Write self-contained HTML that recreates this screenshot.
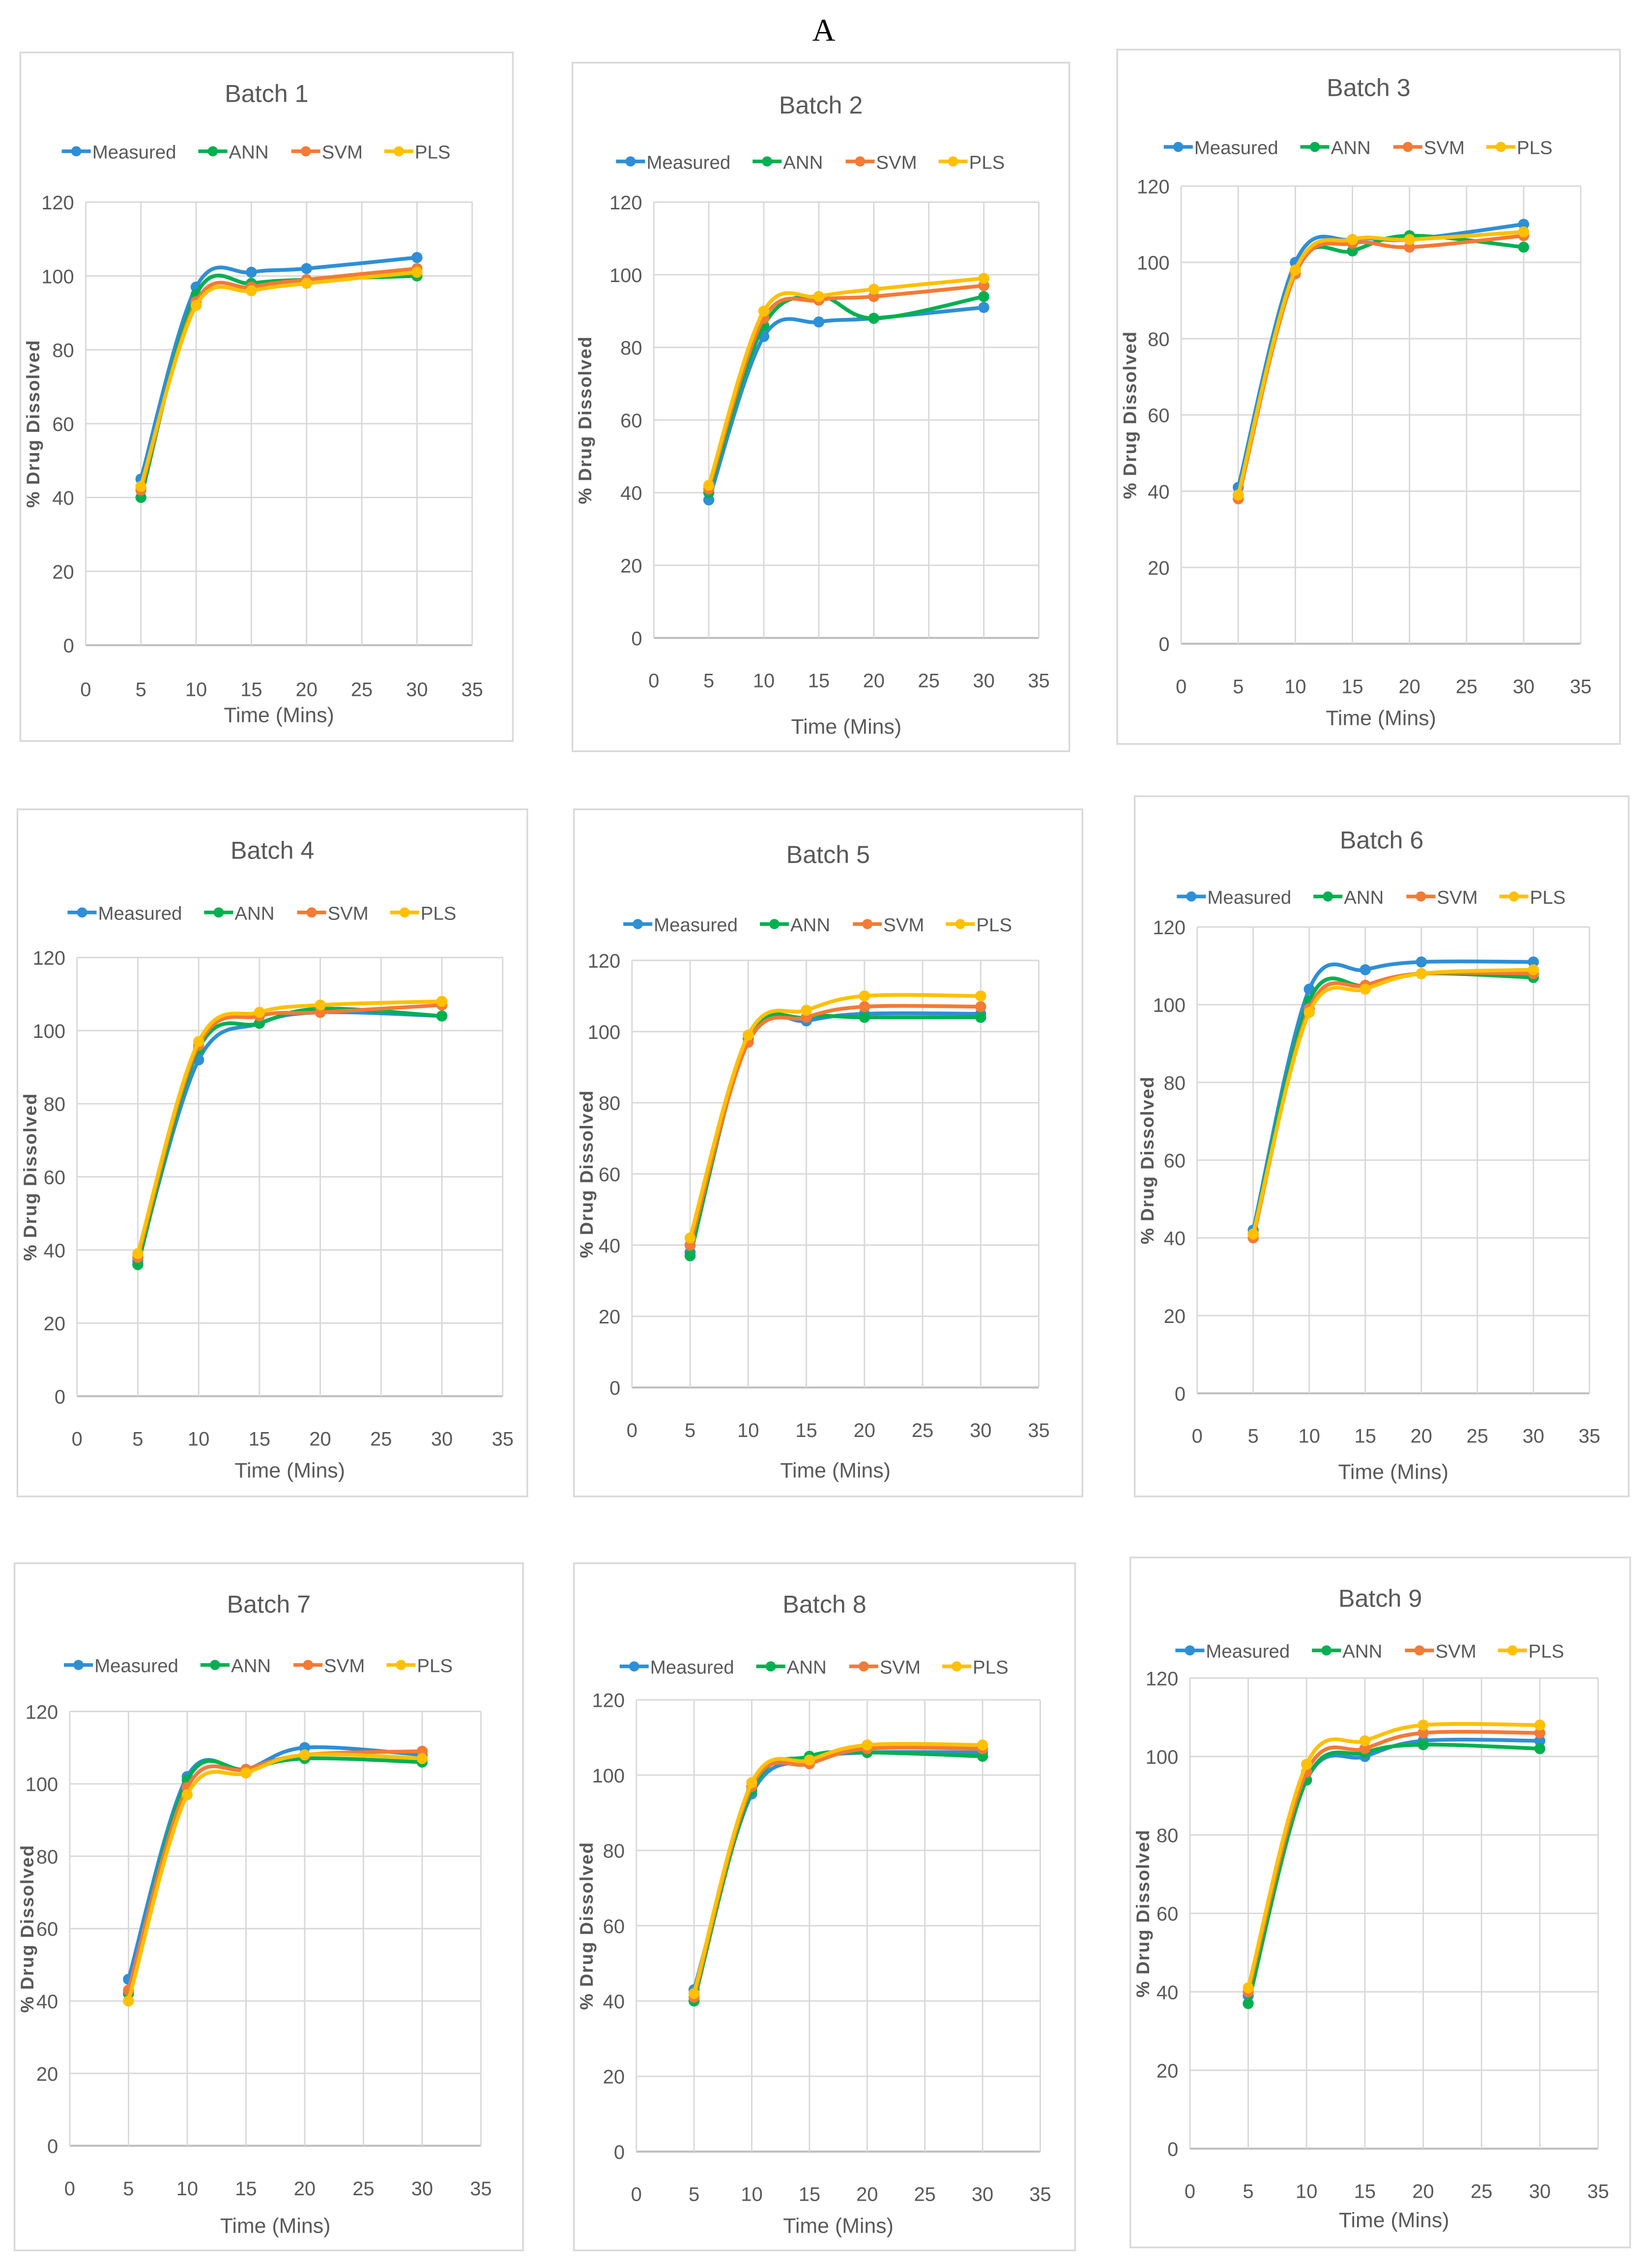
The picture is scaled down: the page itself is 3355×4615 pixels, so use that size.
<!DOCTYPE html>
<html><head><meta charset="utf-8"><style>
html,body{margin:0;padding:0;background:#fff;}
svg{display:block;}
text{font-family:"Liberation Sans Narrow","Liberation Sans",sans-serif;fill:#595959;}
</style></head><body>
<svg id="fig" width="3355" height="4615" viewBox="0 0 1135 1561" xmlns="http://www.w3.org/2000/svg">
<rect width="1135" height="1561" fill="#fff"/>
<text x="567" y="28" text-anchor="middle" font-size="22" style="font-family:'Liberation Serif',serif;fill:#000">A</text>
</svg>
<script>
const times=[5,10,15,20,30];
const seriesNames=["Measured","ANN","SVM","PLS"];
const xTicks=[0,5,10,15,20,25,30,35];
const yTicks=[0,20,40,60,80,100,120];
const b1Measured=[45,97,101,102,105],b1ANN=[40,95,98,99,100],b1SVM=[42,93,97,99,102],b1PLS=[43,92,96,98,101];
const b2Measured=[38,83,87,88,91],b2ANN=[40,86,94,88,94],b2SVM=[41,88,93,94,97],b2PLS=[42,90,94,96,99];
const b3Measured=[41,100,106,106,110],b3ANN=[39,98,103,107,104],b3SVM=[38,97,105,104,107],b3PLS=[39,98,106,106,108];
const b4Measured=[37,92,102,105,104],b4ANN=[36,95,102,106,104],b4SVM=[38,96,104,105,107],b4PLS=[39,97,105,107,108];
const b5Measured=[38,99,103,105,105],b5ANN=[37,98,104,104,104],b5SVM=[40,97,104,107,107],b5PLS=[42,99,106,110,110];
const b6Measured=[42,104,109,111,111],b6ANN=[41,101,105,108,107],b6SVM=[40,99,105,108,108],b6PLS=[41,98,104,108,109];
const b7Measured=[46,102,104,110,108],b7ANN=[42,101,104,107,106],b7SVM=[43,99,104,108,109],b7PLS=[40,97,103,108,107];
const b8Measured=[43,95,104,106,106],b8ANN=[40,96,105,106,105],b8SVM=[41,97,103,107,107],b8PLS=[42,98,104,108,108];
const b9Measured=[39,94,100,104,104],b9ANN=[37,94,101,103,102],b9SVM=[40,96,102,106,106],b9PLS=[41,98,104,108,108];
const batchData=[[b1Measured,b1ANN,b1SVM,b1PLS],[b2Measured,b2ANN,b2SVM,b2PLS],[b3Measured,b3ANN,b3SVM,b3PLS],[b4Measured,b4ANN,b4SVM,b4PLS],[b5Measured,b5ANN,b5SVM,b5PLS],[b6Measured,b6ANN,b6SVM,b6PLS],[b7Measured,b7ANN,b7SVM,b7PLS],[b8Measured,b8ANN,b8SVM,b8PLS],[b9Measured,b9ANN,b9SVM,b9PLS]];
const colors=["#2e8fd6","#00b050","#f47a35","#ffc000"];
// layout: box[x1,y1,x2,y2], title y, legend y, plot x0,x35,y0,y120, tick y, xtitle y
const L=[
[14,36,353,510,64,104,59,325,444,139,474,492],
[394,43,736,517,72,111,450,715,439,139,468,500],
[769,34,1115,512,60,101,813,1088,443,128,472,494],
[12,557,363,1030,585,628,53,346,961,659,990,1012],
[395,557,745,1030,588,636,435,715,955,661,984,1012],
[781,548,1121,1030,578,617,824,1094,959,638,988,1013],
[10,1076,360,1549,1104,1146,48,331,1477,1178,1506,1532],
[395,1076,740,1549,1104,1147,438,716,1481,1170,1510,1532],
[778,1072,1122,1547,1100,1136,819,1100,1479,1155,1508,1528]];
const NS="http://www.w3.org/2000/svg",svg=document.getElementById("fig");
function mk(t,a,p){const e=document.createElementNS(NS,t);for(const k in a)e.setAttribute(k,a[k]);(p||svg).appendChild(e);return e;}
function smooth(pts){let d="M"+pts[0][0]+","+pts[0][1];for(let i=0;i<pts.length-1;i++){const p0=pts[i-1]||pts[i],p1=pts[i],p2=pts[i+1],p3=pts[i+2]||p2;const t=0.17;d+=" C"+(p1[0]+(p2[0]-p0[0])*t)+","+(p1[1]+(p2[1]-p0[1])*t)+" "+(p2[0]-(p3[0]-p1[0])*t)+","+(p2[1]-(p3[1]-p1[1])*t)+" "+p2[0]+","+p2[1];}return d;}
L.forEach((c,bi)=>{
const g=mk("g",{});


const box=mk("rect",{x:c[0],y:c[1],width:c[2]-c[0],height:c[3]-c[1],fill:"#fff",stroke:"#d9d9d9","stroke-width":1.2},g);

const X=v=>c[6]+(c[7]-c[6])*v/35,Y=v=>c[8]+(c[9]-c[8])*v/120;
const cx=(c[0]+c[2])/2;
const tt=mk("text",{x:cx,y:c[4]+6,"text-anchor":"middle","font-size":17},g);tt.textContent="Batch "+(bi+1);

// legend
const widths=[72,42,42,38];const tot=widths.reduce((a,b)=>a+b,0)+4*22;let lx=cx-tot/2;
seriesNames.forEach((n,si)=>{const lg=mk("g",{},g);

mk("line",{x1:lx,y1:c[5],x2:lx+20,y2:c[5],stroke:colors[si],"stroke-width":2.5},lg);
mk("circle",{cx:lx+10,cy:c[5],r:3.5,fill:colors[si]},lg);
const t=mk("text",{x:lx+21,y:c[5]+5,"font-size":13},lg);t.textContent=n;lx+=22+widths[si];});
// grid
yTicks.forEach(v=>{const l=mk("line",{x1:X(0),x2:X(35),y1:Y(v),y2:Y(v),stroke:v?"#d9d9d9":"#bfbfbf","stroke-width":v?1:1.4},g);

const t=mk("text",{x:X(0)-8,y:Y(v)+5,"text-anchor":"end","font-size":13.5},g);t.textContent=v;
});
xTicks.forEach(v=>{const l=mk("line",{x1:X(v),x2:X(v),y1:Y(0),y2:Y(120),stroke:"#d9d9d9","stroke-width":1},g);

const t=mk("text",{x:X(v),y:c[10]+5,"text-anchor":"middle","font-size":13.5},g);t.textContent=v;
});
const xt=mk("text",{x:(X(0)+X(35))/2,y:c[11]+5,"text-anchor":"middle","font-size":14.5},g);xt.textContent="Time (Mins)";

const yx=c[0]+13,yy=(Y(0)+Y(120))/2;
const yt=mk("text",{x:yx,y:yy,"text-anchor":"middle","font-size":12.5,"font-weight":"bold",transform:"rotate(-90 "+yx+" "+yy+")",style:"font-family:'Liberation Sans',sans-serif;letter-spacing:0.6px"},g);yt.textContent="% Drug Dissolved";

batchData[bi].forEach((vals,si)=>{const pts=times.map((t,i)=>[X(t),Y(vals[i])]);
const p=mk("path",{d:smooth(pts),fill:"none",stroke:colors[si],"stroke-width":2.6},g);

pts.forEach(q=>{const m=mk("circle",{cx:q[0],cy:q[1],r:3.8,fill:colors[si]},g);
});});
});
</script>
</body></html>
